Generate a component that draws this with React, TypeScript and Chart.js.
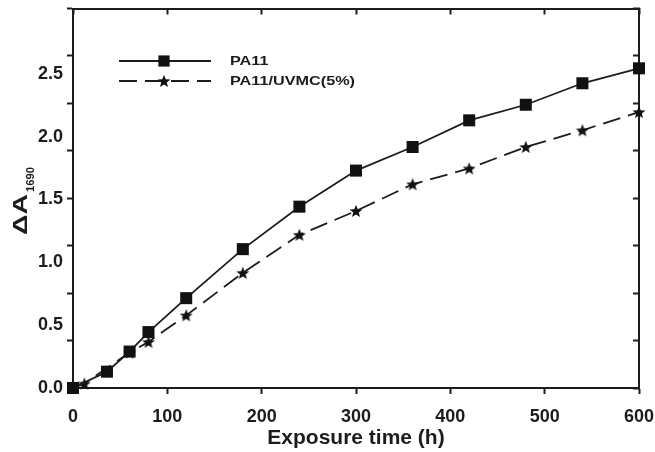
import { useEffect, useRef } from 'react';
import { Chart, registerables } from 'chart.js';

Chart.register(...registerables);

// ---- data ----
const seriesNames = ['PA11', 'PA11/UVMC(5%)'];
const hoursPA11 = [0, 36, 60, 80, 120, 180, 240, 300, 360, 420, 480, 540, 600];
const valuesPA11 = [0, 0.13, 0.29, 0.445, 0.715, 1.105, 1.443, 1.73, 1.918, 2.13, 2.254, 2.425, 2.544];
const hoursUVMC = [0, 12, 60, 80, 120, 180, 240, 300, 360, 420, 480, 540, 600];
const valuesUVMC = [0, 0.035, 0.282, 0.367, 0.578, 0.916, 1.219, 1.409, 1.621, 1.747, 1.918, 2.051, 2.196];

const xTickValues = [0, 100, 200, 300, 400, 500, 600];
const yLabelValues = [0, 0.5, 1.0, 1.5, 2.0, 2.5];
const Y_MAX = 3.02;
const Y_MARK_COUNT = 8;
const xTitle = 'Exposure time (h)';
const yTitleMain = 'ΔA';
const yTitleSub = '1690';

const FONT = '"Liberation Sans", Arial, Helvetica, sans-serif';
const INK = '#1c1c1c';

function makeStar(size: number, color: string): HTMLCanvasElement {
  const c = document.createElement('canvas');
  c.width = size;
  c.height = size;
  const g = c.getContext('2d')!;
  g.fillStyle = color;
  g.beginPath();
  const cx = size / 2;
  const cy = size / 2 + 0.6;
  const R = size / 2 - 0.2;
  const r = R * 0.43;
  for (let i = 0; i < 10; i++) {
    const a = -Math.PI / 2 + (i * Math.PI) / 5;
    const rad = i % 2 === 0 ? R : r;
    const px = cx + rad * Math.cos(a);
    const py = cy + rad * Math.sin(a);
    if (i === 0) g.moveTo(px, py);
    else g.lineTo(px, py);
  }
  g.closePath();
  g.fill();
  return c;
}

function fixBox(w: number | null, h: number | null) {
  return (s: any) => {
    if (w !== null) s.width = w;
    if (h !== null) s.height = h;
    s.paddingLeft = 0;
    s.paddingRight = 0;
    s.paddingTop = 0;
    s.paddingBottom = 0;
  };
}

export default function App() {
  const ref = useRef<HTMLCanvasElement>(null);

  useEffect(() => {
    document.body.style.margin = '0';
    const canvas = ref.current;
    if (!canvas) return;

    const star = makeStar(14, '#111');
    const near = (a: number, b: number) => Math.abs(a - b) < 1e-6;
    const markValues = Array.from({ length: Y_MARK_COUNT + 1 }, (_, i) => (i * Y_MAX) / Y_MARK_COUNT);
    const isMark = (v: number) => markValues.some((m) => near(m, v));
    const isLabel = (v: number) => yLabelValues.some((m) => near(m, v));
    const leftValues = [...markValues];
    yLabelValues.forEach((v) => {
      if (!leftValues.some((m) => near(m, v))) leftValues.push(v);
    });
    leftValues.sort((a, b) => a - b);

    const overlay = {
      id: 'overlay',
      afterDraw(chart: any) {
        const ctx = chart.ctx as CanvasRenderingContext2D;
        ctx.save();
        // ---- legend ----
        const rows = [
          { y: 61, dash: [] as number[], marker: 'rect' },
          { y: 81, dash: [18, 8], marker: 'star' },
        ];
        ctx.font = `bold 13px ${FONT}`;
        const sx = 125 / ctx.measureText(seriesNames[1]).width;
        rows.forEach((row, i) => {
          const ds = chart.data.datasets[i];
          ctx.strokeStyle = ds.borderColor;
          ctx.lineWidth = ds.borderWidth;
          ctx.setLineDash(row.dash);
          ctx.beginPath();
          ctx.moveTo(119, row.y);
          ctx.lineTo(211, row.y);
          ctx.stroke();
          ctx.setLineDash([]);
          if (row.marker === 'rect') {
            const s = 5.6;
            ctx.fillStyle = '#111';
            ctx.fillRect(164 - s, row.y - s, 2 * s, 2 * s);
          } else {
            ctx.drawImage(star, 164 - star.width / 2, row.y - star.height / 2);
          }
          ctx.save();
          ctx.translate(230, row.y + 0.5);
          ctx.scale(sx, 1);
          ctx.fillStyle = INK;
          ctx.textBaseline = 'middle';
          ctx.textAlign = 'left';
          ctx.fillText(seriesNames[i], 0, 0);
          ctx.restore();
        });

        // ---- y title with subscript ----
        ctx.save();
        ctx.translate(27, 235);
        ctx.rotate(-Math.PI / 2);
        ctx.fillStyle = INK;
        ctx.textBaseline = 'alphabetic';
        ctx.textAlign = 'left';
        ctx.font = `bold 20px ${FONT}`;
        const mainW = ctx.measureText(yTitleMain).width;
        ctx.save();
        ctx.scale(41 / mainW, 1);
        ctx.fillText(yTitleMain, 0, 0);
        ctx.restore();
        ctx.font = `bold 10px ${FONT}`;
        const subW = ctx.measureText(yTitleSub).width;
        ctx.save();
        ctx.translate(43, 6.5);
        ctx.scale(25 / subW, 1);
        ctx.fillText(yTitleSub, 0, 0);
        ctx.restore();
        ctx.restore();

        ctx.restore();
      },
    };

    const tickFont = { family: FONT, size: 18, weight: 'bold' as const };

    const chart = new Chart(canvas, {
      type: 'line',
      data: {
        datasets: [
          {
            label: seriesNames[0],
            data: hoursPA11.map((h, i) => ({ x: h, y: valuesPA11[i] })),
            borderColor: INK,
            borderWidth: 1.8,
            pointStyle: 'rect',
            pointRadius: 8.5,
            pointBackgroundColor: '#111',
            pointBorderWidth: 0,
            clip: false,
            xAxisID: 'x',
            yAxisID: 'y',
          },
          {
            label: seriesNames[1],
            data: hoursUVMC.map((h, i) => ({ x: h, y: valuesUVMC[i] })),
            borderColor: INK,
            borderWidth: 1.8,
            borderDash: [18, 8],
            pointStyle: star as any,
            pointRadius: 7,
            pointBackgroundColor: '#111',
            pointBorderWidth: 0,
            clip: false,
            xAxisID: 'x',
            yAxisID: 'y',
          },
        ],
      },
      options: {
        responsive: false,
        animation: false,
        layout: { padding: 0 },
        plugins: { legend: { display: false }, tooltip: { enabled: false } },
        scales: {
          x: {
            type: 'linear',
            position: 'bottom',
            min: 0,
            max: 600,
            afterBuildTicks: (s: any) => {
              s.ticks = xTickValues.map((v) => ({ value: v }));
            },
            afterFit: fixBox(null, 64),
            ticks: { autoSkip: false, maxRotation: 0, padding: 12, color: INK, font: tickFont },
            grid: { drawOnChartArea: false, drawTicks: true, tickLength: 6, tickWidth: 2, tickColor: INK },
            border: { display: true, color: INK, width: 2 },
            title: {
              display: true,
              text: xTitle,
              color: INK,
              font: { family: FONT, size: 21, weight: 'bold' },
              padding: { top: 0, bottom: 1 },
            },
          },
          xTop: {
            type: 'linear',
            position: 'top',
            min: 0,
            max: 600,
            afterBuildTicks: (s: any) => {
              s.ticks = xTickValues.map((v) => ({ value: v }));
            },
            afterFit: fixBox(null, 6),
            ticks: { display: false },
            grid: { drawOnChartArea: false, drawTicks: true, tickLength: -6, tickWidth: 2, tickColor: INK },
            border: { display: true, color: INK, width: 2 },
          },
          y: {
            type: 'linear',
            position: 'left',
            min: 0,
            max: Y_MAX,
            afterBuildTicks: (s: any) => {
              s.ticks = leftValues.map((v) => ({ value: v }));
            },
            afterFit: fixBox(73, null),
            ticks: {
              autoSkip: false,
              padding: 4,
              color: INK,
              font: tickFont,
              callback: (v: any) => (isLabel(Number(v)) ? Number(v).toFixed(1) : ''),
            },
            grid: {
              drawOnChartArea: false,
              drawTicks: true,
              tickLength: 6,
              tickWidth: 2,
              tickColor: (c: any) => (c.tick && isMark(c.tick.value) ? INK : 'rgba(0,0,0,0)'),
            },
            border: { display: true, color: INK, width: 2 },
          },
          yRight: {
            type: 'linear',
            position: 'right',
            min: 0,
            max: Y_MAX,
            afterBuildTicks: (s: any) => {
              s.ticks = markValues.map((v) => ({ value: v }));
            },
            afterFit: fixBox(16, null),
            ticks: { display: false },
            grid: { drawOnChartArea: false, drawTicks: true, tickLength: -6, tickWidth: 2, tickColor: INK },
            border: { display: true, color: INK, width: 2 },
          },
        },
      } as any,
      plugins: [overlay],
    });

    return () => {
      chart.destroy();
    };
  }, []);

  return (
    <div style={{ width: 655, height: 452, background: '#fff' }}>
      <canvas ref={ref} width={655} height={452} style={{ display: 'block' }} />
    </div>
  );
}
